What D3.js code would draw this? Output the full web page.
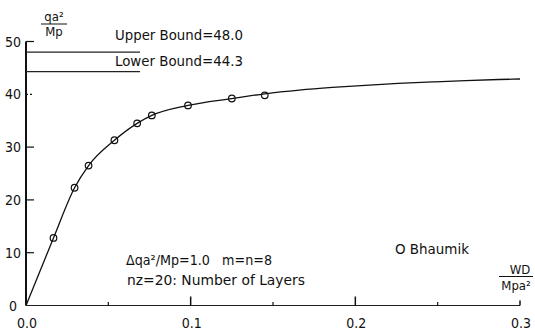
<!DOCTYPE html>
<html><head><meta charset="utf-8">
<script src="https://cdn.jsdelivr.net/npm/d3@7/dist/d3.min.js"></script>
<style>
body{margin:0;background:#fff;}
svg text{font-family:"DejaVu Sans Condensed","DejaVu Sans Mono","Liberation Mono",monospace;fill:#111;white-space:pre;}
</style></head>
<body><svg id="c" width="535" height="330"></svg>
<script>
// Data
const curveX = [0, 0.0167, 0.0295, 0.038, 0.0537, 0.0675, 0.0764, 0.0984, 0.125, 0.145, 0.166, 0.186, 0.206, 0.226, 0.247, 0.267, 0.287, 0.3];
const curveY = [0, 12.8, 22.3, 26.5, 31.3, 34.5, 36.0, 37.9, 39.2, 40.1, 40.8, 41.3, 41.7, 42.05, 42.35, 42.6, 42.8, 42.9];
const bhaumikX = [0.0167, 0.0295, 0.038, 0.0537, 0.0675, 0.0764, 0.0984, 0.125, 0.145];
const bhaumikY = [12.8, 22.3, 26.5, 31.3, 34.5, 36.0, 37.9, 39.2, 39.8];
const boundNames = ["Upper Bound", "Lower Bound"];
const boundValues = [48.0, 44.3];
const xTickValues = [0, 0.1, 0.2, 0.3];
const xTickLabels = ["0.0", "0.1", "0.2", "0.3"];
const xMinorTicks = [0.05, 0.15, 0.25];
const yTickValues = [0, 10, 20, 30, 40, 50];
const yTickLabels = ["0", "10", "20", "30", "40", "50"];

const svg = d3.select("#c");
const x = d3.scaleLinear().domain([0, 0.3]).range([26, 520]);
const y = d3.scaleLinear().domain([0, 50]).range([305.5, 41.5]);

// axes
svg.append("line").attr("x1", x(0)).attr("x2", x(0.3)).attr("y1", y(0)).attr("y2", y(0))
  .attr("stroke", "#222").attr("stroke-width", 1.2);
svg.append("line").attr("x1", x(0)).attr("x2", x(0)).attr("y1", y(0)).attr("y2", y(50))
  .attr("stroke", "#111").attr("stroke-width", 2);

// x ticks
svg.selectAll(".xt").data(xTickValues.slice(1)).enter().append("line")
  .attr("x1", d => x(d)).attr("x2", d => x(d)).attr("y1", y(0)).attr("y2", (d, i) => y(0) - (i === 2 ? 5 : 9))
  .attr("stroke", "#111").attr("stroke-width", 1.5);
svg.selectAll(".xm").data(xMinorTicks).enter().append("line")
  .attr("x1", d => x(d)).attr("x2", d => x(d)).attr("y1", y(0)).attr("y2", y(0) - 3.5)
  .attr("stroke", "#111").attr("stroke-width", 1.2);
svg.selectAll(".xl").data(xTickValues).enter().append("text")
  .attr("x", d => x(d) + 1).attr("y", 328).attr("text-anchor", "middle")
  .attr("font-size", 14).text((d, i) => xTickLabels[i]);

// y ticks
svg.selectAll(".yt").data(yTickValues.slice(1)).enter().append("line")
  .attr("x1", x(0)).attr("x2", x(0) + 8).attr("y1", d => y(d)).attr("y2", d => y(d))
  .attr("stroke", "#111").attr("stroke-width", 1.2)
  .attr("stroke-dasharray", d => d === 40 ? "2,2" : null);
svg.selectAll(".yl").data(yTickValues).enter().append("text")
  .attr("x", d => d === 0 ? 17 : 21).attr("y", d => y(d) + 5).attr("text-anchor", "end")
  .attr("font-size", 14).text((d, i) => yTickLabels[i]);

// bounds
svg.selectAll(".bl").data(boundValues).enter().append("line")
  .attr("x1", x(0)).attr("x2", 140).attr("y1", d => y(d)).attr("y2", d => y(d))
  .attr("stroke", "#222").attr("stroke-width", 1.2);
svg.selectAll(".bt").data(boundValues).enter().append("text")
  .attr("x", 115).attr("y", (d, i) => i === 0 ? 39.5 : 65.5)
  .attr("font-size", 14).attr("textLength", 128).attr("lengthAdjust", "spacingAndGlyphs")
  .text((d, i) => boundNames[i] + "=" + d.toFixed(1));

// curve
const pts = curveX.map((v, i) => [v, curveY[i]]);
svg.append("path").datum(pts)
  .attr("d", d3.line().x(d => x(d[0])).y(d => y(d[1])).curve(d3.curveMonotoneX))
  .attr("fill", "none").attr("stroke", "#111").attr("stroke-width", 1.3);

// Bhaumik circles
svg.selectAll(".pt").data(bhaumikX).enter().append("circle")
  .attr("cx", d => x(d)).attr("cy", (d, i) => y(bhaumikY[i])).attr("r", 3.3)
  .attr("fill", "none").attr("stroke", "#111").attr("stroke-width", 1.2);

// Axis titles (fractions)
const yl = svg.append("g");
yl.append("text").attr("x", 54).attr("y", 21).attr("text-anchor", "middle").attr("font-size", 13).text("qa²");
yl.append("line").attr("x1", 41).attr("x2", 67).attr("y1", 24).attr("y2", 24).attr("stroke", "#111").attr("stroke-width", 1);
yl.append("text").attr("x", 54).attr("y", 35.5).attr("text-anchor", "middle").attr("font-size", 13).text("Mp");

const xl = svg.append("g");
xl.append("text").attr("x", 520).attr("y", 274).attr("text-anchor", "middle").attr("font-size", 13).text("WD");
xl.append("line").attr("x1", 499).attr("x2", 533).attr("y1", 276.5).attr("y2", 276.5).attr("stroke", "#111").attr("stroke-width", 1);
xl.append("text").attr("x", 516).attr("y", 289.5).attr("text-anchor", "middle").attr("font-size", 13).text("Mpa²");

// annotations
svg.append("text").attr("x", 126).attr("y", 265).attr("font-size", 14).attr("xml:space", "preserve")
  .attr("textLength", 146).attr("lengthAdjust", "spacingAndGlyphs").text("Δqa²/Mp=1.0   m=n=8");
svg.append("text").attr("x", 127).attr("y", 285).attr("font-size", 14)
  .attr("textLength", 178).attr("lengthAdjust", "spacingAndGlyphs").text("nz=20: Number of Layers");
svg.append("text").attr("x", 395).attr("y", 254).attr("font-size", 14)
  .attr("textLength", 74).attr("lengthAdjust", "spacingAndGlyphs").text("O Bhaumik");
</script></body></html>
